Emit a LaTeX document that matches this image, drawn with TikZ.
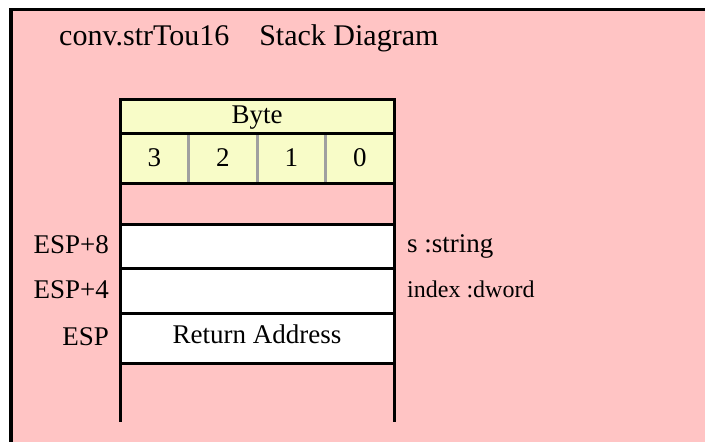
\documentclass[tikz,border=0pt]{standalone}
\usepackage{fontspec}
\setmainfont{Liberation Serif}
\usetikzlibrary{positioning}
\definecolor{stackbg}{HTML}{FFC4C4}
\definecolor{cream}{HTML}{F8FCC8}
\definecolor{sepgray}{HTML}{A0A0A0}
\tikzset{cell/.style={draw=black,line width=3pt,fill=white,inner sep=0pt,outer sep=0pt,minimum width=274pt,font=\fontsize{27}{32}\selectfont},byte/.style={cell,draw=sepgray,fill=cream,minimum width=68.5pt,minimum height=50pt},lbl/.style={inner sep=0pt,font=\fontsize{27}{32}\selectfont},wall/.style={line width=3pt}}
\begin{document}
\begin{tikzpicture}[x=1pt,y=-1pt]
\useasboundingbox (0,0) rectangle (705,442);
\fill[stackbg] (11,9.7) rectangle (705,442);\draw[line width=3.3pt] (11,442) |- (705,9.7);
\node[lbl,anchor=base west,font=\fontsize{30}{35}\selectfont] (title) at (59,45) {conv.strTou16\hspace{30pt}Stack Diagram};
\node[cell,fill=cream,minimum height=34pt,text depth=2pt] (hdr) at (257,116) {Byte};
\node[byte] (b3) at (154.25,158) {3};
\node[byte,right=0pt of b3] (b2) {2};
\node[byte,right=0pt of b2] (b1) {1};
\node[byte,right=0pt of b1] (b0) {0};
\draw[wall] (b3.north west) rectangle (b0.south east);
\node[cell,minimum height=44pt] (a8) at (257,246) {};
\node[cell,minimum height=45pt,below=0pt of a8] (a4) {};
\node[cell,minimum height=50pt,below=0pt of a4,text height=18pt,text depth=8pt] (ret) {Return Address};
\coordinate (lb) at (120,422);\coordinate (rb) at (394,422);
\draw[wall] (hdr.north west)--(lb);\draw[wall] (hdr.north east)--(rb);
\node[lbl,anchor=base east] (l8) at (109,253) {ESP+8};
\node[lbl,anchor=base east] (l4) at (109,298) {ESP+4};
\node[lbl,anchor=base east] (l0) at (109,345) {ESP};
\node[lbl,anchor=base west] (s) at (407,252) {s :string};
\node[lbl,anchor=base west,font=\fontsize{24}{28}\selectfont] (idx) at (407,297) {index :dword};
\end{tikzpicture}
\end{document}
